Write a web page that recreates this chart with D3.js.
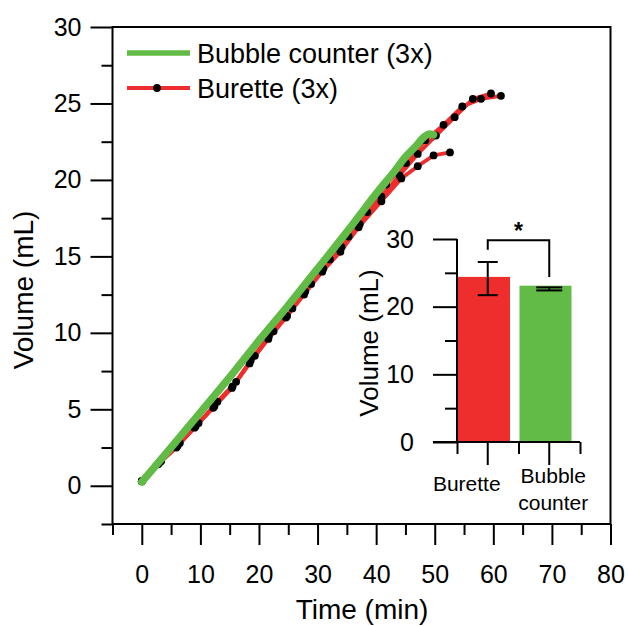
<!DOCTYPE html>
<html>
<head>
<meta charset="utf-8">
<script src="https://cdn.jsdelivr.net/npm/d3@7"></script>
<style>
  body { margin: 0; background: #fff; }
  text { font-family: "Liberation Sans", Arial, sans-serif; fill: #000; }
</style>
</head>
<body>
<script>
// colours from the figure
const green = "#62bb46";
const red = "#ee2d2d";

// main plot: volume vs time, [min, mL]
const bubble = [
  [0, 0.25], [5, 2.5], [10, 4.8], [15, 7.1], [20, 9.5], [25, 11.8], [30, 14.2],
  [35, 16.6], [40, 19.1], [43, 20.5], [45, 21.5], [47, 22.3], [48, 22.75],
  [49, 23.0], [49.8, 22.95]
];
const burette1 = [
  [0, 0.3], [3.3, 1.6], [6.5, 2.8], [9.7, 4.1], [12.9, 5.5], [16.1, 6.8], [19.3, 8.5],
  [22.5, 10.1], [25.7, 11.6], [28.9, 13.2], [32.1, 14.8], [35.3, 16.3], [38.5, 17.9],
  [41.7, 19.7], [45.1, 21.1], [48.4, 22.6], [51.5, 23.6], [54.7, 24.8], [57.9, 25.3],
  [61.3, 25.5]
];
const burette2 = [
  [0, 0.3], [3.0, 1.5], [6.1, 2.6], [9.2, 3.9], [12.4, 5.2], [15.5, 6.5], [18.6, 8.2],
  [21.7, 9.8], [24.8, 11.1], [27.9, 12.7], [31.0, 14.2], [34.1, 15.6], [37.2, 17.1],
  [40.9, 18.9], [44.0, 20.3], [47.1, 21.7], [50.2, 22.9], [53.4, 24.1], [56.5, 25.3],
  [59.6, 25.65]
];
const burette3 = [
  [0, 0.3], [2.8, 1.4], [5.9, 2.5], [9.0, 3.8], [12.2, 5.1], [15.4, 6.4], [18.4, 8.0],
  [21.6, 9.6], [24.6, 11.0], [27.7, 12.5], [30.8, 14.0], [33.9, 15.3], [37.0, 16.9],
  [40.9, 18.6], [44.3, 20.1], [47.1, 20.9], [49.8, 21.6], [52.6, 21.8]
];
const xTicks = [0, 10, 20, 30, 40, 50, 60, 70, 80];
const yTicks = [0, 5, 10, 15, 20, 25, 30];
const legendNames = ["Bubble counter (3x)", "Burette (3x)"];

// inset: final volume
const barCats = ["Burette", "Bubble counter"];
const barMeans = [24.4, 23.1];
const barErrLow = [21.7, 22.4];
const barErrHigh = [26.6, 22.85];
const barTicks = [0, 10, 20, 30];
const sigLeft = 28.4, sigTop = 29.8, sigRight = 24.4;

const svg = d3.select("body").append("svg")
  .attr("width", 628).attr("height", 626);

// ---------- main plot ----------
const x = d3.scaleLinear().domain([-5, 80]).range([112.5, 610.5]);
const y = d3.scaleLinear().domain([-2.5, 30]).range([524, 27]);

function minorAxis(axis, scale, values, size) {
  return axis(scale).tickValues(values).tickSize(size).tickFormat("");
}

const gx = svg.append("g").attr("transform", "translate(0,524)");
gx.call(d3.axisBottom(x).tickValues(xTicks).tickSize(21).tickPadding(20));
gx.call(g => g.append("g").call(minorAxis(d3.axisBottom, x, d3.range(-5, 80, 10), 11)));

const gy = svg.append("g").attr("transform", "translate(112.5,0)");
gy.call(d3.axisLeft(y).tickValues(yTicks).tickSize(22).tickPadding(9));
gy.call(g => g.append("g").call(minorAxis(d3.axisLeft, y, d3.range(-2.5, 30, 5), 11)));

svg.selectAll(".domain").remove();
svg.selectAll(".tick line").attr("stroke", "#000").attr("stroke-width", 2);
svg.selectAll(".tick text").style("font-size", "25px")
  .style("font-family", "'Liberation Sans', Arial, sans-serif");

svg.append("rect")
  .attr("x", x(-5)).attr("y", y(30))
  .attr("width", x(80) - x(-5)).attr("height", y(-2.5) - y(30))
  .attr("fill", "none").attr("stroke", "#000").attr("stroke-width", 2);

const line = d3.line().x(d => x(d[0])).y(d => y(d[1]));
const burettes = [burette1, burette2, burette3];

svg.append("g").selectAll("path").data(burettes).enter().append("path")
  .attr("d", line)
  .attr("fill", "none").attr("stroke", red).attr("stroke-width", 3.8)
  .attr("stroke-linejoin", "round");

svg.append("g").selectAll("circle").data(burettes.flat()).enter().append("circle")
  .attr("cx", d => x(d[0])).attr("cy", d => y(d[1])).attr("r", 3.9)
  .attr("fill", "#000");

svg.append("path")
  .attr("d", line.curve(d3.curveCatmullRom)(bubble))
  .attr("fill", "none").attr("stroke", green).attr("stroke-width", 7.5)
  .attr("stroke-linecap", "round").attr("stroke-linejoin", "round");

svg.append("text")
  .attr("x", 362).attr("y", 619).attr("text-anchor", "middle")
  .style("font-size", "28px").text("Time (min)");

svg.append("text")
  .attr("transform", "translate(33,290) rotate(-90)").attr("text-anchor", "middle")
  .style("font-size", "28px").text("Volume (mL)");

// legend
const legend = svg.append("g");
legendNames.forEach((name, i) => {
  const ly = 53 + i * 35;
  legend.append("line")
    .attr("x1", 127).attr("x2", 190).attr("y1", ly).attr("y2", ly)
    .attr("stroke", i === 0 ? green : red).attr("stroke-width", i === 0 ? 5.5 : 3.8);
  if (i === 1) {
    legend.append("circle").attr("cx", 157).attr("cy", ly).attr("r", 3.9).attr("fill", "#000");
  }
  legend.append("text")
    .attr("x", 197).attr("y", ly + 10)
    .style("font-size", "27px").text(name);
});

// ---------- inset bar chart ----------
const ix = d3.scaleBand().domain(barCats).range([457, 580]);
const iy = d3.scaleLinear().domain([0, 30]).range([442, 239]);
const inset = svg.append("g");

inset.selectAll("rect").data(barCats).enter().append("rect")
  .attr("x", d => ix(d) + 1).attr("width", 52)
  .attr("y", (d, i) => iy(barMeans[i]))
  .attr("height", (d, i) => iy(0) - iy(barMeans[i]))
  .attr("fill", (d, i) => i === 0 ? red : green);

const iyAxis = inset.append("g").attr("transform", "translate(457,0)");
iyAxis.call(d3.axisLeft(iy).tickValues(barTicks).tickSize(24).tickPadding(19));
iyAxis.call(g => g.append("g").call(minorAxis(d3.axisLeft, iy, [5, 15, 25], 12)));

const ixAxis = inset.append("g").attr("transform", "translate(0,442)");
ixAxis.call(d3.axisBottom(ix).tickSize(23).tickFormat(""));
ixAxis.call(g => g.append("g").call(
  d3.axisBottom(d3.scaleLinear().domain([0, 2]).range([457, 580]))
    .tickValues([0, 1, 2]).tickSize(12).tickFormat("")));

inset.selectAll(".domain").remove();
inset.selectAll(".tick line").attr("stroke", "#000").attr("stroke-width", 2);
inset.selectAll(".tick text").style("font-size", "25px")
  .style("font-family", "'Liberation Sans', Arial, sans-serif");

inset.append("line").attr("x1", 457).attr("x2", 457).attr("y1", iy(30)).attr("y2", iy(0))
  .attr("stroke", "#000").attr("stroke-width", 2);
inset.append("line").attr("x1", 433).attr("x2", 580).attr("y1", iy(0)).attr("y2", iy(0))
  .attr("stroke", "#000").attr("stroke-width", 2);

// error bars
barCats.forEach((c, i) => {
  const cx = ix(c) + ix.bandwidth() / 2;
  const cap = i === 0 ? 10 : 13;
  const eb = inset.append("g").attr("stroke", "#000").attr("stroke-width", 2);
  eb.append("line").attr("x1", cx).attr("x2", cx)
    .attr("y1", iy(barErrLow[i])).attr("y2", iy(barErrHigh[i]));
  [barErrLow[i], barErrHigh[i]].forEach(v => {
    eb.append("line").attr("x1", cx - cap).attr("x2", cx + cap)
      .attr("y1", iy(v)).attr("y2", iy(v));
  });
});

// significance bracket
const c0 = ix(barCats[0]) + ix.bandwidth() / 2;
const c1 = ix(barCats[1]) + ix.bandwidth() / 2;
inset.append("path")
  .attr("d", `M${c0},${iy(sigLeft)}V${iy(sigTop)}H${c1}V${iy(sigRight)}`)
  .attr("fill", "none").attr("stroke", "#000").attr("stroke-width", 2);
inset.append("text")
  .attr("x", (c0 + c1) / 2).attr("y", iy(sigTop) - 1).attr("text-anchor", "middle")
  .style("font-size", "23px").style("font-weight", "bold").text("*");

// category labels
const labelShift = [-21, 4];
barCats.forEach((c, i) => {
  const words = i === 0 ? [c] : c.split(" ");
  const t = inset.append("text")
    .attr("text-anchor", "middle")
    .attr("x", ix(c) + ix.bandwidth() / 2 + labelShift[i])
    .attr("y", i === 0 ? 491 : 483)
    .style("font-size", "21px");
  words.forEach((w, k) => {
    t.append("tspan").attr("x", ix(c) + ix.bandwidth() / 2 + labelShift[i])
      .attr("dy", k === 0 ? 0 : 27).text(w);
  });
});

inset.append("text")
  .attr("transform", "translate(378,343) rotate(-90)").attr("text-anchor", "middle")
  .style("font-size", "26px").text("Volume (mL)");
</script>
</body>
</html>
